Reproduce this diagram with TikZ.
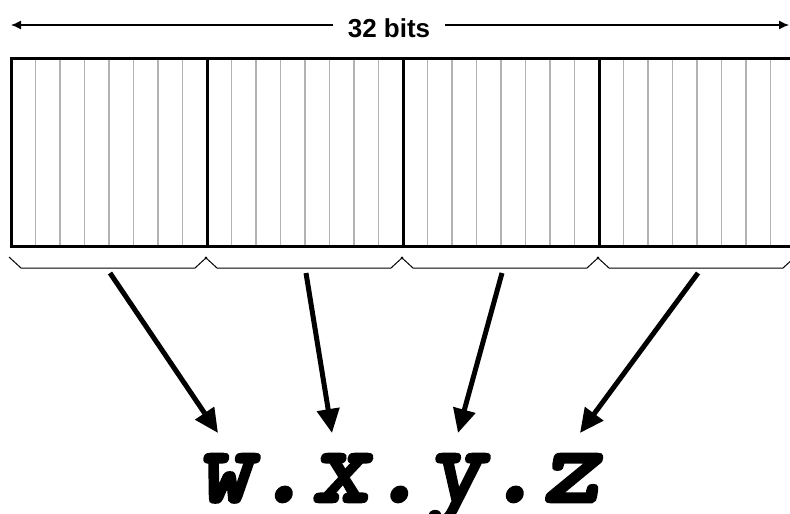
\documentclass[tikz,border=0pt]{standalone}
\usepackage{fontspec}
\setmainfont{Liberation Sans}
\newfontfamily\addrfont{lmmonolt10-boldoblique}[Extension=.otf, FakeBold=2.5]
\usetikzlibrary{arrows.meta}
\begin{document}
\begin{tikzpicture}[x=1pt,y=-1pt,
  bitline/.style={draw=black!30, line width=1.3pt},
  bytesep/.style={line width=3pt},
  brace/.style={line width=1pt, line join=miter},
  bigarrow/.style={line width=5pt, -{Triangle[length=24pt,width=22pt]}},
  span/.style={line width=1.3pt, {Latex[length=10pt,width=9pt]}-{Latex[length=10pt,width=9pt]}}]
\useasboundingbox (0,0) rectangle (790,514);

% the 32-bit word: thin bit lines, thick byte separators, outer frame
\foreach \i in {1,...,31}
  \draw[bitline] ({11+24.5*\i},58) -- ({11+24.5*\i},246);
\foreach \i in {1,2,3}
  \draw[bytesep] ({11+196*\i},58) -- ({11+196*\i},246);
\draw[line width=3pt] (11,58) rectangle (796,246);

% width marker
\coordinate (spanL) at (11,25);
\coordinate (spanR) at (789,25);
\draw[span] (spanL) -- (spanR);
\node[fill=white, inner xsep=15pt, inner ysep=2pt, anchor=base,
      font=\bfseries\fontsize{26}{26}\selectfont] (width) at (389,37) {32 bits};

% one brace and one arrow per byte
\node[font=\addrfont\fontsize{110}{110}\selectfont, anchor=base,
      inner sep=0pt] (addr) at (398,502) {w.x.y.z};
\coordinate (t0) at (218,433);
\coordinate (t1) at (332,433);
\coordinate (t2) at (458,433);
\coordinate (t3) at (580,433);
\foreach \k in {0,1,2,3}{
  \pgfmathsetmacro{\xa}{11+196*\k}
  \pgfmathsetmacro{\xb}{\xa+196}
  \draw[brace] ({\xa-2},257) -- ({\xa+10},268) -- ({\xb-12},268) -- (\xb,257);
  \coordinate (s\k) at ({\xa+99},273);
  \draw[bigarrow] (s\k) -- (t\k);
}
\end{tikzpicture}
\end{document}
